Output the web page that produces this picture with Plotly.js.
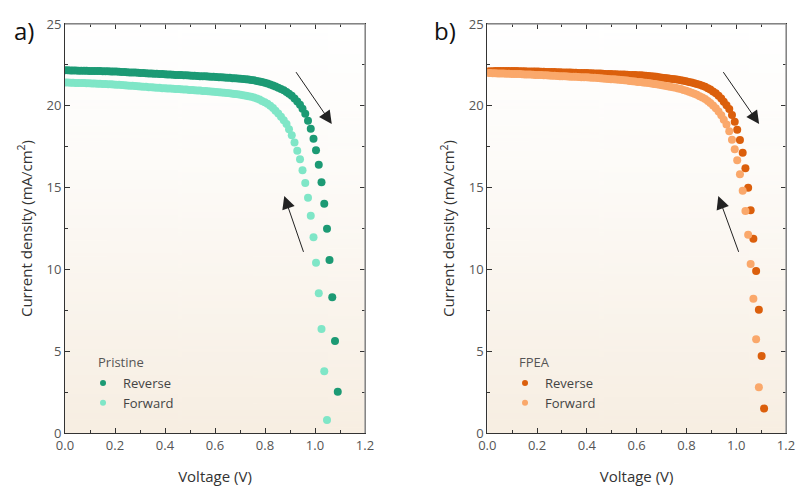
<!DOCTYPE html>
<html>
<head>
<meta charset="utf-8">
<script src="https://cdn.plot.ly/plotly-3.0.1.min.js"></script>
<style>html,body{margin:0;padding:0;background:#fff;}#chart{width:799px;height:489px;}</style>
</head>
<body>
<div id="chart"></div>
<script>
// Voltage grid (V), shared by all sweeps
const voltage = [0,0.011,0.022,0.032,0.043,0.054,0.065,0.076,0.086,0.097,
0.108,0.119,0.130,0.140,0.151,0.162,0.173,0.184,0.194,0.205,
0.216,0.227,0.238,0.248,0.259,0.270,0.281,0.292,0.302,0.313,
0.324,0.335,0.346,0.356,0.367,0.378,0.389,0.400,0.410,0.421,
0.432,0.443,0.454,0.464,0.475,0.486,0.497,0.508,0.518,0.529,
0.540,0.551,0.562,0.572,0.583,0.594,0.605,0.616,0.626,0.637,
0.648,0.659,0.670,0.680,0.691,0.702,0.713,0.724,0.734,0.745,
0.756,0.767,0.778,0.788,0.799,0.810,0.821,0.832,0.842,0.853,
0.864,0.875,0.886,0.896,0.907,0.918,0.929,0.940,0.950,0.961,
0.972,0.983,0.994,1.004,1.015,1.026,1.037,1.048,1.058,1.069,
1.080,1.091,1.102,1.112];

// Current density (mA/cm2)
const pristineReverse = [22.17,22.17,22.16,22.16,22.16,22.15,22.15,22.14,22.14,22.13,
22.13,22.13,22.12,22.12,22.11,22.11,22.11,22.10,22.10,
22.09,22.08,22.07,22.06,22.05,22.04,22.04,22.03,22.02,
22.01,22.00,21.99,21.98,21.97,21.96,21.96,21.95,21.94,
21.93,21.92,21.91,21.90,21.89,21.88,21.88,21.87,21.86,
21.85,21.84,21.83,21.82,21.81,21.80,21.80,21.79,21.78,21.77,
21.76,21.75,21.74,21.73,21.72,21.71,21.69,21.68,21.67,
21.66,21.64,21.62,21.60,21.58,
21.56,21.52,21.48,21.45,21.41,21.36,21.30,21.24,21.18,21.11,
21.03,20.95,20.85,20.74,20.62,20.45,20.27,20.07,19.82,19.52,
19.08,18.60,17.99,17.28,16.39,15.33,14.02,12.49,10.58,8.30,
5.62,2.52];

const pristineForward = [21.42,21.42,21.41,21.41,21.40,21.40,21.39,21.39,21.38,21.38,
21.37,21.36,21.35,21.35,21.34,21.33,21.32,21.31,21.30,
21.29,21.28,21.27,21.25,21.24,21.23,21.22,21.21,21.19,
21.18,21.17,21.16,21.14,21.13,21.12,21.11,21.10,21.08,
21.07,21.06,21.05,21.04,21.03,21.02,21.01,21.00,20.99,
20.97,20.96,20.95,20.94,20.93,20.91,20.90,20.89,20.87,20.86,
20.84,20.83,20.81,20.80,20.78,20.76,20.74,20.72,20.70,
20.67,20.65,20.62,20.59,20.56,
20.51,20.45,20.38,20.30,20.22,20.12,20.00,19.86,19.70,19.53,
19.33,19.12,18.89,18.56,18.20,17.75,17.26,16.73,16.06,15.28,
14.38,13.28,11.96,10.41,8.54,6.36,3.77,0.79];

const fpeaReverse = [22.10,22.11,22.11,22.12,22.12,22.12,22.13,22.13,22.13,22.12,
22.12,22.12,22.11,22.11,22.11,22.10,22.10,22.10,22.09,
22.09,22.08,22.08,22.07,22.07,22.06,22.06,22.05,22.05,
22.04,22.04,22.03,22.03,22.02,22.02,22.01,22.01,22.00,
22.00,21.99,21.99,21.98,21.97,21.97,21.96,21.95,21.95,
21.94,21.93,21.93,21.92,21.91,21.91,21.90,21.89,21.88,21.88,
21.87,21.86,21.85,21.83,21.82,21.80,21.79,21.77,21.75,
21.72,21.70,21.68,21.66,21.64,
21.62,21.59,21.56,21.53,21.50,21.46,21.42,21.38,21.33,21.28,
21.22,21.16,21.08,20.99,20.88,20.76,20.62,20.45,20.25,20.03,
19.80,19.44,19.03,18.54,17.91,17.13,16.18,14.99,13.61,11.88,
9.90,7.54,4.71,1.49];

const fpeaForward = [22.00,22.00,21.99,21.99,21.98,21.97,21.97,21.96,21.96,21.95,
21.95,21.94,21.94,21.93,21.92,21.92,21.91,21.90,21.89,
21.88,21.88,21.87,21.86,21.85,21.84,21.83,21.82,21.81,
21.81,21.80,21.79,21.78,21.77,21.77,21.76,21.75,21.74,
21.74,21.73,21.72,21.71,21.70,21.68,21.67,21.66,21.64,
21.63,21.62,21.60,21.59,21.57,21.56,21.54,21.52,21.50,21.48,
21.46,21.45,21.43,21.41,21.39,21.37,21.34,21.32,21.29,
21.26,21.23,21.20,21.16,21.13,
21.10,21.06,21.02,20.97,20.92,20.86,20.80,20.74,20.67,20.59,
20.51,20.41,20.30,20.17,20.02,19.85,19.65,19.42,19.15,18.85,
18.44,17.93,17.34,16.67,15.81,14.81,13.57,12.12,10.33,8.21,
5.73,2.79];

const xTickVals = [0, 0.2, 0.4, 0.6, 0.8, 1.0, 1.2];
const yTickVals = [0, 5, 10, 15, 20, 25];
const seriesNames = ['Reverse', 'Forward'];
const groupNames = ['Pristine', 'FPEA'];
const panelLabels = ['a)', 'b)'];

const colors = {
  pristineReverse: '#1c9a74',
  pristineForward: '#7fe6c7',
  fpeaReverse: '#db5f0c',
  fpeaForward: '#faa86b'
};

function gradientURL() {
  const c = document.createElement('canvas');
  c.width = 4; c.height = 256;
  const g = c.getContext('2d');
  const gr = g.createLinearGradient(0, 0, 0, 256);
  gr.addColorStop(0, '#ffffff');
  gr.addColorStop(0.35, '#fdfbf8');
  gr.addColorStop(1, '#f7eee2');
  g.fillStyle = gr;
  g.fillRect(0, 0, 4, 256);
  return c.toDataURL();
}

function pts(J, color, xa, ya) {
  return {
    type: 'scatter', mode: 'markers',
    x: voltage.slice(0, J.length), y: J,
    xaxis: xa, yaxis: ya, showlegend: false, hoverinfo: 'x+y',
    marker: {size: 8, color: color, line: {width: 0},
             gradient: {type: 'radial', color: 'rgba(255,255,255,0.0)'}}
  };
}
function pts2(J, color, xa, ya) {
  const t = pts(J, color, xa, ya);
  t.marker = {size: 8, color: color, line: {width: 0}};
  return t;
}
function legendItem(name, color, xa, ya, lg) {
  return {type: 'scatter', mode: 'markers', x: [null], y: [null], xaxis: xa, yaxis: ya,
          name: name, legend: lg, showlegend: true,
          marker: {size: 6, color: color}};
}

const data = [
  pts2(pristineReverse, colors.pristineReverse, 'x', 'y'),
  pts2(pristineForward, colors.pristineForward, 'x', 'y'),
  pts2(fpeaReverse, colors.fpeaReverse, 'x2', 'y2'),
  pts2(fpeaForward, colors.fpeaForward, 'x2', 'y2'),
  legendItem(seriesNames[0], colors.pristineReverse, 'x', 'y', 'legend'),
  legendItem(seriesNames[1], colors.pristineForward, 'x', 'y', 'legend'),
  legendItem(seriesNames[0], colors.fpeaReverse, 'x2', 'y2', 'legend2'),
  legendItem(seriesNames[1], colors.fpeaForward, 'x2', 'y2', 'legend2')
];

const FONT = '"Open Sans", "Noto Sans", sans-serif';

function xAxis(domain, anchor) {
  return {
    domain: domain, anchor: anchor, range: [0, 1.2],
    tickvals: xTickVals, tickformat: '.1f',
    ticks: 'inside', ticklen: 5, tickwidth: 1, tickcolor: '#333',
    minor: {dtick: 0.1, ticks: 'inside', ticklen: 3, tickcolor: '#333'},
    showline: true, linecolor: '#333', linewidth: 1, mirror: 'ticks',
    showgrid: false, zeroline: false,
    tickfont: {family: FONT, size: 13, color: '#555'},
    title: {text: 'Voltage (V)', font: {family: FONT, size: 15, color: '#333'}, standoff: 18}
  };
}
function yAxis(domain, anchor) {
  return {
    domain: domain, anchor: anchor, range: [0, 25],
    tickvals: yTickVals,
    ticks: 'inside', ticklen: 5, tickwidth: 1, tickcolor: '#333',
    minor: {dtick: 2.5, ticks: 'inside', ticklen: 3, tickcolor: '#333'},
    showline: true, linecolor: '#333', linewidth: 1, mirror: 'ticks',
    showgrid: false, zeroline: false,
    tickfont: {family: FONT, size: 13, color: '#555'},
    title: {text: 'Current density (mA/cm<sup>2</sup>)', font: {family: FONT, size: 15, color: '#333'}, standoff: 10}
  };
}

const bg = gradientURL();
function bgImage(xr, yr) {
  return {source: bg, xref: xr + ' domain', yref: yr + ' domain', x: 0, y: 1,
          sizex: 1, sizey: 1, sizing: 'stretch', xanchor: 'left', yanchor: 'top', layer: 'below'};
}
function frame(xr, yr) {
  return [
    {type: 'line', xref: xr + ' domain', yref: yr + ' domain', x0: 0, x1: 1, y0: 1, y1: 1,
     line: {color: '#a0a0a0', width: 1.5}, layer: 'above'},
    {type: 'line', xref: xr + ' domain', yref: yr + ' domain', x0: 1, x1: 1, y0: 0, y1: 1,
     line: {color: '#a0a0a0', width: 1.5}, layer: 'above'}
  ];
}
function arrow(xr, yr, x, y, ax, ay) {
  return {xref: xr, yref: yr, axref: xr, ayref: yr, x: x, y: y, ax: ax, ay: ay,
          text: '', showarrow: true, arrowhead: 2, arrowsize: 2.6, arrowwidth: 1,
          arrowcolor: '#222', standoff: 0, startstandoff: 0};
}
function label(text, x, y, size, color, anchor) {
  return {xref: 'paper', yref: 'paper', x: x, y: y, text: text, showarrow: false,
          xanchor: anchor || 'left', yanchor: 'middle',
          font: {family: FONT, size: size, color: color}};
}

const layout = {
  width: 799, height: 489,
  margin: {l: 65, r: 13, t: 24, b: 56, pad: 0},
  paper_bgcolor: '#ffffff', plot_bgcolor: 'rgba(0,0,0,0)',
  showlegend: true,
  xaxis: xAxis([0, 0.4161], 'y'),
  yaxis: yAxis([0, 1], 'x'),
  xaxis2: xAxis([0.5857, 1.0], 'y2'),
  yaxis2: yAxis([0, 1], 'x2'),
  legend: {x: 0.025, y: 0.159, xanchor: 'left', yanchor: 'top', bgcolor: 'rgba(0,0,0,0)',
           font: {family: FONT, size: 13, color: '#444'}, tracegroupgap: 0},
  legend2: {x: 0.6103, y: 0.159, xanchor: 'left', yanchor: 'top', bgcolor: 'rgba(0,0,0,0)',
           font: {family: FONT, size: 13, color: '#444'}, tracegroupgap: 0},
  images: [bgImage('x', 'y'), bgImage('x2', 'y2')],
  shapes: [].concat(frame('x', 'y'), frame('x2', 'y2')),
  annotations: [
    arrow('x', 'y', 1.067, 18.89, 0.92, 22.15),
    arrow('x', 'y', 0.877, 14.49, 0.956, 10.98),
    arrow('x2', 'y2', 1.092, 18.89, 0.944, 22.15),
    arrow('x2', 'y2', 0.928, 14.49, 1.012, 10.98),
    label(panelLabels[0], -0.0735, 0.985, 24, '#111'),
    label(panelLabels[1], 0.509, 0.985, 24, '#111'),
    label(groupNames[0], 0.0426, 0.1736, 13, '#555'),
    label(groupNames[1], 0.6269, 0.1736, 13, '#555')
  ]
};

Plotly.newPlot('chart', data, layout, {displayModeBar: false, staticPlot: true});
</script>
</body>
</html>
